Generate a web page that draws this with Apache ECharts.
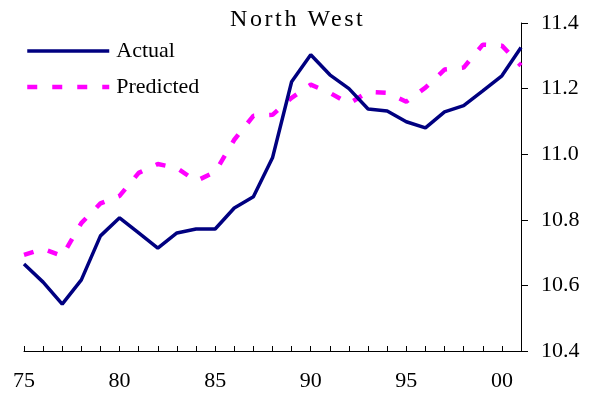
<!DOCTYPE html>
<html>
<head>
<meta charset="utf-8">
<script src="https://cdn.jsdelivr.net/npm/echarts@6/dist/echarts.min.js"></script>
<style>
  html, body { margin: 0; padding: 0; background: #fff; }
  #chart { width: 596px; height: 400px; }
</style>
</head>
<body>
<div id="chart"></div>
<script>
// Years 1975-2001, shown as two-digit labels
const years = ['75','76','77','78','79','80','81','82','83','84','85','86','87','88',
               '89','90','91','92','93','94','95','96','97','98','99','00','01'];

const actual = [10.665, 10.61, 10.543, 10.617, 10.751, 10.806, 10.76, 10.714, 10.76,
                10.772, 10.772, 10.836, 10.87, 10.989, 11.221, 11.303, 11.242, 11.20,
                11.138, 11.132, 11.099, 11.08, 11.129, 11.148, 11.193, 11.239, 11.325];

const predicted = [10.693, 10.711, 10.69, 10.79, 10.85, 10.873, 10.943, 10.97, 10.958,
                   10.918, 10.946, 11.044, 11.117, 11.12, 11.172, 11.212, 11.187, 11.154,
                   11.19, 11.187, 11.16, 11.203, 11.258, 11.264, 11.334, 11.331, 11.27];

const yTicks = { min: 10.4, max: 11.4, step: 0.2 };

const titleText = 'North West';
const serif = '"Liberation Serif", "Times New Roman", serif';

// Draw the title with wider letter tracking
(function () {
  const proto = CanvasRenderingContext2D.prototype;
  const baseFill = proto.fillText;
  proto.fillText = function (text, x, y, maxW) {
    if (text === titleText && 'letterSpacing' in this) {
      const prev = this.letterSpacing;
      this.letterSpacing = '2.6px';
      const r = maxW === undefined ? baseFill.call(this, text, x, y) : baseFill.call(this, text, x, y, maxW);
      this.letterSpacing = prev;
      return r;
    }
    return maxW === undefined ? baseFill.call(this, text, x, y) : baseFill.call(this, text, x, y, maxW);
  };
})();

const chart = echarts.init(document.getElementById('chart'), null, { renderer: 'canvas' });

chart.setOption({
  animation: false,
  backgroundColor: '#ffffff',
  title: {
    text: titleText,
    left: 230,
    top: 8,
    padding: 0,
    textStyle: { fontFamily: serif, fontSize: 24, fontWeight: 'normal', color: '#000' }
  },
  legend: {
    orient: 'vertical',
    left: 25,
    top: 40,
    padding: 0,
    itemWidth: 82,
    itemHeight: 14,
    itemGap: 14,
    itemStyle: { opacity: 0 },
    lineStyle: { width: 'inherit' },
    textStyle: { fontFamily: serif, fontSize: 22, color: '#000', padding: [0, 0, 0, 2] },
    data: ['Actual', 'Predicted']
  },
  grid: { left: 24, right: 75, top: 23, bottom: 49, containLabel: false },
  xAxis: {
    type: 'category',
    data: years,
    boundaryGap: false,
    axisLine: { lineStyle: { color: '#000', width: 1 } },
    axisTick: { inside: true, length: 5, interval: 0, lineStyle: { color: '#000' } },
    axisLabel: {
      interval: 4,
      margin: 19,
      fontFamily: serif, fontSize: 22, color: '#000'
    },
    splitLine: { show: false }
  },
  yAxis: {
    type: 'value',
    position: 'right',
    min: yTicks.min,
    max: yTicks.max,
    interval: yTicks.step,
    axisLine: { show: true, lineStyle: { color: '#000', width: 1 } },
    axisTick: { show: true, inside: false, length: 7, lineStyle: { color: '#000' } },
    axisLabel: {
      margin: 20,
      fontFamily: serif, fontSize: 22, color: '#000',
      formatter: v => v.toFixed(1)
    },
    splitLine: { show: false }
  },
  series: [
    {
      name: 'Actual',
      type: 'line',
      data: actual,
      symbol: 'none',
      color: '#000080',
      lineStyle: { color: '#000080', width: 3.5 },
      z: 3
    },
    {
      name: 'Predicted',
      type: 'line',
      data: predicted,
      symbol: 'none',
      color: '#ff00ff',
      lineStyle: { color: '#ff00ff', width: 4.5, type: [10, 15], cap: 'butt' },
      z: 2
    }
  ]
});
</script>
</body>
</html>
